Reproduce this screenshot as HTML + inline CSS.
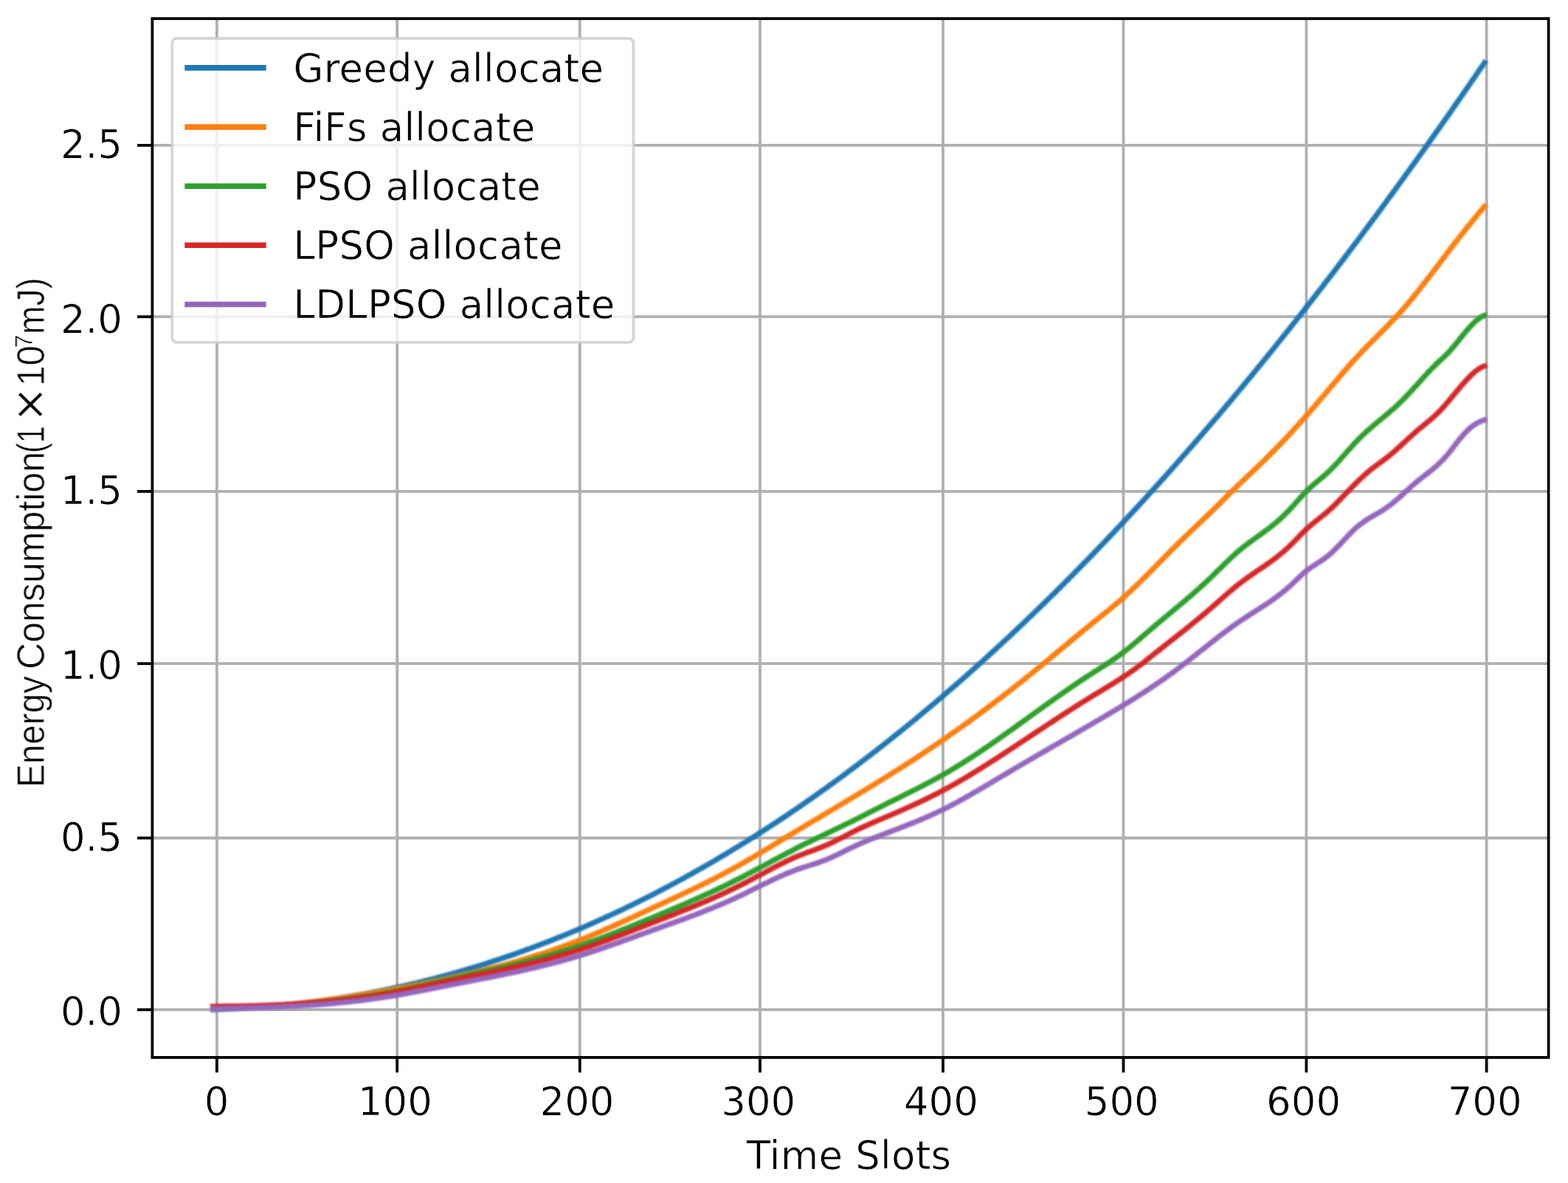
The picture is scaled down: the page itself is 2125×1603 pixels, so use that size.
<!DOCTYPE html>
<html lang="en"><head><meta charset="utf-8"><title>Energy Consumption</title>
<style>html,body{margin:0;padding:0;background:#fff;}body{width:2125px;height:1603px;overflow:hidden;}svg{display:block;}text{font-family:"DejaVu Sans", "Liberation Sans", sans-serif;fill:#000;stroke:#fff;stroke-width:0.7px;stroke-linejoin:round;}</style>
</head><body>
<svg width="2125" height="1603" viewBox="0 0 2125 1603">
<rect x="0" y="0" width="2125" height="1603" fill="#fff"/>
<defs><filter id="fLine" x="0" y="0" width="2125" height="1603" filterUnits="userSpaceOnUse" color-interpolation-filters="sRGB"><feGaussianBlur stdDeviation="0.45"/></filter><filter id="fCurve" x="0" y="0" width="2125" height="1603" filterUnits="userSpaceOnUse" color-interpolation-filters="sRGB"><feGaussianBlur stdDeviation="1.3"/></filter><filter id="fText" x="0" y="0" width="2125" height="1603" filterUnits="userSpaceOnUse" color-interpolation-filters="sRGB"><feGaussianBlur stdDeviation="0.7"/></filter></defs>
<g id="chart">
<g stroke="#b0b0b0" stroke-width="3.8" fill="none" filter="url(#fLine)">
<line x1="293.9" y1="25.2" x2="293.9" y2="1432.9"/>
<line x1="538.2" y1="25.2" x2="538.2" y2="1432.9"/>
<line x1="785.8" y1="25.2" x2="785.8" y2="1432.9"/>
<line x1="1030.0" y1="25.2" x2="1030.0" y2="1432.9"/>
<line x1="1278.0" y1="25.2" x2="1278.0" y2="1432.9"/>
<line x1="1522.5" y1="25.2" x2="1522.5" y2="1432.9"/>
<line x1="1770.4" y1="25.2" x2="1770.4" y2="1432.9"/>
<line x1="2014.6" y1="25.2" x2="2014.6" y2="1432.9"/>
<line x1="206.4" y1="1368.2" x2="2098.6" y2="1368.2"/>
<line x1="206.4" y1="1135.5" x2="2098.6" y2="1135.5"/>
<line x1="206.4" y1="899.2" x2="2098.6" y2="899.2"/>
<line x1="206.4" y1="665.9" x2="2098.6" y2="665.9"/>
<line x1="206.4" y1="429.2" x2="2098.6" y2="429.2"/>
<line x1="206.4" y1="196.9" x2="2098.6" y2="196.9"/>
</g>
<g fill="none" stroke-width="7.3" stroke-linecap="square" stroke-linejoin="round" filter="url(#fCurve)">
<path d="M288.6,1368.0 L294.0,1367.8 L297.0,1367.7 L300.0,1367.6 L303.0,1367.5 L306.0,1367.3 L309.0,1367.2 L312.0,1367.1 L315.0,1366.9 L318.0,1366.8 L321.0,1366.6 L324.0,1366.5 L327.0,1366.3 L330.0,1366.1 L333.0,1365.9 L336.0,1365.7 L339.0,1365.6 L342.0,1365.4 L345.0,1365.2 L348.0,1364.9 L351.0,1364.7 L354.0,1364.5 L357.0,1364.3 L360.0,1364.0 L363.0,1363.8 L366.0,1363.6 L369.0,1363.3 L372.0,1363.0 L375.0,1362.8 L378.0,1362.5 L381.0,1362.2 L384.0,1361.9 L387.0,1361.6 L390.0,1361.3 L393.0,1361.0 L396.0,1360.7 L399.0,1360.4 L402.0,1360.1 L405.0,1359.7 L408.0,1359.4 L411.0,1359.0 L414.0,1358.7 L417.0,1358.3 L420.0,1358.0 L423.0,1357.6 L426.0,1357.2 L429.0,1356.8 L432.0,1356.4 L435.0,1356.0 L438.0,1355.6 L441.0,1355.2 L444.0,1354.8 L447.0,1354.3 L450.0,1353.9 L453.0,1353.4 L456.0,1353.0 L459.0,1352.5 L462.0,1352.1 L465.0,1351.6 L468.0,1351.1 L471.0,1350.6 L474.0,1350.1 L477.0,1349.6 L480.0,1349.1 L483.0,1348.6 L486.0,1348.1 L489.0,1347.6 L492.0,1347.0 L495.0,1346.5 L498.0,1345.9 L501.0,1345.4 L504.0,1344.8 L507.0,1344.2 L510.0,1343.6 L513.0,1343.1 L516.0,1342.5 L519.0,1341.9 L522.0,1341.3 L525.0,1340.6 L528.0,1340.0 L531.0,1339.4 L534.0,1338.7 L537.0,1338.1 L540.0,1337.4 L543.0,1336.8 L546.0,1336.1 L549.0,1335.4 L552.0,1334.8 L555.0,1334.1 L558.0,1333.4 L561.0,1332.7 L564.0,1332.0 L567.0,1331.2 L570.0,1330.5 L573.0,1329.8 L576.0,1329.0 L579.0,1328.3 L582.0,1327.5 L585.0,1326.8 L588.0,1326.0 L591.0,1325.2 L594.0,1324.4 L597.0,1323.6 L600.0,1322.8 L603.0,1322.0 L606.0,1321.2 L609.0,1320.4 L612.0,1319.5 L615.0,1318.7 L618.0,1317.9 L621.0,1317.0 L624.0,1316.1 L627.0,1315.3 L630.0,1314.4 L633.0,1313.5 L636.0,1312.6 L639.0,1311.7 L642.0,1310.8 L645.0,1309.9 L648.0,1309.0 L651.0,1308.1 L654.0,1307.1 L657.0,1306.2 L660.0,1305.2 L663.0,1304.3 L666.0,1303.3 L669.0,1302.3 L672.0,1301.3 L675.0,1300.3 L678.0,1299.4 L681.0,1298.3 L684.0,1297.3 L687.0,1296.3 L690.0,1295.3 L693.0,1294.3 L696.0,1293.2 L699.0,1292.2 L702.0,1291.1 L705.0,1290.0 L708.0,1289.0 L711.0,1287.9 L714.0,1286.8 L717.0,1285.7 L720.0,1284.6 L723.0,1283.5 L726.0,1282.4 L729.0,1281.2 L732.0,1280.1 L735.0,1278.9 L738.0,1277.8 L741.0,1276.6 L744.0,1275.5 L747.0,1274.3 L750.0,1273.1 L753.0,1271.9 L756.0,1270.7 L759.0,1269.5 L762.0,1268.3 L765.0,1267.1 L768.0,1265.9 L771.0,1264.6 L774.0,1263.4 L777.0,1262.1 L780.0,1260.9 L783.0,1259.6 L786.0,1258.3 L789.0,1257.1 L792.0,1255.8 L795.0,1254.5 L798.0,1253.2 L801.0,1251.9 L804.0,1250.5 L807.0,1249.2 L810.0,1247.9 L813.0,1246.5 L816.0,1245.2 L819.0,1243.8 L822.0,1242.4 L825.0,1241.1 L828.0,1239.7 L831.0,1238.3 L834.0,1236.9 L837.0,1235.5 L840.0,1234.1 L843.0,1232.7 L846.0,1231.2 L849.0,1229.8 L852.0,1228.3 L855.0,1226.9 L858.0,1225.4 L861.0,1224.0 L864.0,1222.5 L867.0,1221.0 L870.0,1219.5 L873.0,1218.0 L876.0,1216.5 L879.0,1215.0 L882.0,1213.5 L885.0,1211.9 L888.0,1210.4 L891.0,1208.8 L894.0,1207.3 L897.0,1205.7 L900.0,1204.1 L903.0,1202.6 L906.0,1201.0 L909.0,1199.4 L912.0,1197.8 L915.0,1196.2 L918.0,1194.6 L921.0,1192.9 L924.0,1191.3 L927.0,1189.7 L930.0,1188.0 L933.0,1186.3 L936.0,1184.7 L939.0,1183.0 L942.0,1181.3 L945.0,1179.6 L948.0,1177.9 L951.0,1176.2 L954.0,1174.5 L957.0,1172.8 L960.0,1171.1 L963.0,1169.3 L966.0,1167.6 L969.0,1165.8 L972.0,1164.1 L975.0,1162.3 L978.0,1160.5 L981.0,1158.8 L984.0,1157.0 L987.0,1155.2 L990.0,1153.4 L993.0,1151.5 L996.0,1149.7 L999.0,1147.9 L1002.0,1146.1 L1005.0,1144.2 L1008.0,1142.4 L1011.0,1140.5 L1014.0,1138.6 L1017.0,1136.7 L1020.0,1134.9 L1023.0,1133.0 L1026.0,1131.1 L1029.0,1129.1 L1032.0,1127.2 L1035.0,1125.3 L1038.0,1123.4 L1041.0,1121.4 L1044.0,1119.5 L1047.0,1117.5 L1050.0,1115.6 L1053.0,1113.6 L1056.0,1111.6 L1059.0,1109.6 L1062.0,1107.6 L1065.0,1105.6 L1068.0,1103.6 L1071.0,1101.6 L1074.0,1099.5 L1077.0,1097.5 L1080.0,1095.5 L1083.0,1093.4 L1086.0,1091.4 L1089.0,1089.3 L1092.0,1087.2 L1095.0,1085.1 L1098.0,1083.0 L1101.0,1080.9 L1104.0,1078.8 L1107.0,1076.7 L1110.0,1074.6 L1113.0,1072.4 L1116.0,1070.3 L1119.0,1068.2 L1122.0,1066.0 L1125.0,1063.8 L1128.0,1061.7 L1131.0,1059.5 L1134.0,1057.3 L1137.0,1055.1 L1140.0,1052.9 L1143.0,1050.7 L1146.0,1048.5 L1149.0,1046.2 L1152.0,1044.0 L1155.0,1041.8 L1158.0,1039.5 L1161.0,1037.3 L1164.0,1035.0 L1167.0,1032.7 L1170.0,1030.4 L1173.0,1028.1 L1176.0,1025.8 L1179.0,1023.5 L1182.0,1021.2 L1185.0,1018.9 L1188.0,1016.6 L1191.0,1014.2 L1194.0,1011.9 L1197.0,1009.5 L1200.0,1007.2 L1203.0,1004.8 L1206.0,1002.4 L1209.0,1000.0 L1212.0,997.6 L1215.0,995.2 L1218.0,992.8 L1221.0,990.4 L1224.0,988.0 L1227.0,985.6 L1230.0,983.1 L1233.0,980.7 L1236.0,978.2 L1239.0,975.7 L1242.0,973.3 L1245.0,970.8 L1248.0,968.3 L1251.0,965.8 L1254.0,963.3 L1257.0,960.8 L1260.0,958.3 L1263.0,955.7 L1266.0,953.2 L1269.0,950.7 L1272.0,948.1 L1275.0,945.6 L1278.0,943.0 L1281.0,940.4 L1284.0,937.8 L1287.0,935.2 L1290.0,932.6 L1293.0,930.0 L1296.0,927.4 L1299.0,924.8 L1302.0,922.2 L1305.0,919.5 L1308.0,916.9 L1311.0,914.2 L1314.0,911.6 L1317.0,908.9 L1320.0,906.2 L1323.0,903.5 L1326.0,900.8 L1329.0,898.1 L1332.0,895.4 L1335.0,892.7 L1338.0,890.0 L1341.0,887.2 L1344.0,884.5 L1347.0,881.8 L1350.0,879.0 L1353.0,876.2 L1356.0,873.5 L1359.0,870.7 L1362.0,867.9 L1365.0,865.1 L1368.0,862.3 L1371.0,859.5 L1374.0,856.7 L1377.0,853.8 L1380.0,851.0 L1383.0,848.2 L1386.0,845.3 L1389.0,842.4 L1392.0,839.6 L1395.0,836.7 L1398.0,833.8 L1401.0,830.9 L1404.0,828.0 L1407.0,825.1 L1410.0,822.2 L1413.0,819.3 L1416.0,816.4 L1419.0,813.4 L1422.0,810.5 L1425.0,807.5 L1428.0,804.6 L1431.0,801.6 L1434.0,798.6 L1437.0,795.6 L1440.0,792.7 L1443.0,789.7 L1446.0,786.6 L1449.0,783.6 L1452.0,780.6 L1455.0,777.6 L1458.0,774.5 L1461.0,771.5 L1464.0,768.4 L1467.0,765.4 L1470.0,762.3 L1473.0,759.2 L1476.0,756.1 L1479.0,753.1 L1482.0,750.0 L1485.0,746.8 L1488.0,743.7 L1491.0,740.6 L1494.0,737.5 L1497.0,734.3 L1500.0,731.2 L1503.0,728.0 L1506.0,724.9 L1509.0,721.7 L1512.0,718.5 L1515.0,715.3 L1518.0,712.2 L1521.0,709.0 L1524.0,705.7 L1527.0,702.5 L1530.0,699.3 L1533.0,696.1 L1536.0,692.8 L1539.0,689.6 L1542.0,686.3 L1545.0,683.1 L1548.0,679.8 L1551.0,676.5 L1554.0,673.2 L1557.0,669.9 L1560.0,666.6 L1563.0,663.3 L1566.0,660.0 L1569.0,656.7 L1572.0,653.4 L1575.0,650.0 L1578.0,646.7 L1581.0,643.3 L1584.0,640.0 L1587.0,636.6 L1590.0,633.2 L1593.0,629.8 L1596.0,626.4 L1599.0,623.0 L1602.0,619.6 L1605.0,616.2 L1608.0,612.8 L1611.0,609.4 L1614.0,605.9 L1617.0,602.5 L1620.0,599.0 L1623.0,595.6 L1626.0,592.1 L1629.0,588.6 L1632.0,585.1 L1635.0,581.7 L1638.0,578.2 L1641.0,574.7 L1644.0,571.1 L1647.0,567.6 L1650.0,564.1 L1653.0,560.6 L1656.0,557.0 L1659.0,553.5 L1662.0,549.9 L1665.0,546.3 L1668.0,542.8 L1671.0,539.2 L1674.0,535.6 L1677.0,532.0 L1680.0,528.4 L1683.0,524.8 L1686.0,521.2 L1689.0,517.5 L1692.0,513.9 L1695.0,510.3 L1698.0,506.6 L1701.0,503.0 L1704.0,499.3 L1707.0,495.6 L1710.0,492.0 L1713.0,488.3 L1716.0,484.6 L1719.0,480.9 L1722.0,477.2 L1725.0,473.5 L1728.0,469.7 L1731.0,466.0 L1734.0,462.3 L1737.0,458.5 L1740.0,454.8 L1743.0,451.0 L1746.0,447.2 L1749.0,443.5 L1752.0,439.7 L1755.0,435.9 L1758.0,432.1 L1761.0,428.3 L1764.0,424.5 L1767.0,420.7 L1770.0,416.8 L1773.0,413.0 L1776.0,409.2 L1779.0,405.3 L1782.0,401.5 L1785.0,397.6 L1788.0,393.7 L1791.0,389.9 L1794.0,386.0 L1797.0,382.1 L1800.0,378.2 L1803.0,374.3 L1806.0,370.4 L1809.0,366.5 L1812.0,362.5 L1815.0,358.6 L1818.0,354.7 L1821.0,350.7 L1824.0,346.7 L1827.0,342.8 L1830.0,338.8 L1833.0,334.8 L1836.0,330.8 L1839.0,326.9 L1842.0,322.9 L1845.0,318.9 L1848.0,314.8 L1851.0,310.8 L1854.0,306.8 L1857.0,302.8 L1860.0,298.7 L1863.0,294.7 L1866.0,290.6 L1869.0,286.5 L1872.0,282.5 L1875.0,278.4 L1878.0,274.3 L1881.0,270.2 L1884.0,266.1 L1887.0,262.0 L1890.0,257.9 L1893.0,253.8 L1896.0,249.7 L1899.0,245.5 L1902.0,241.4 L1905.0,237.2 L1908.0,233.1 L1911.0,228.9 L1914.0,224.7 L1917.0,220.6 L1920.0,216.4 L1923.0,212.2 L1926.0,208.0 L1929.0,203.8 L1932.0,199.6 L1935.0,195.4 L1938.0,191.1 L1941.0,186.9 L1944.0,182.7 L1947.0,178.4 L1950.0,174.2 L1953.0,169.9 L1956.0,165.6 L1959.0,161.4 L1962.0,157.1 L1965.0,152.8 L1968.0,148.5 L1971.0,144.2 L1974.0,139.9 L1977.0,135.6 L1980.0,131.2 L1983.0,126.9 L1986.0,122.6 L1989.0,118.2 L1992.0,113.9 L1995.0,109.5 L1998.0,105.2 L2001.0,100.8 L2004.0,96.4 L2007.0,92.0 L2010.0,87.7 L2011.8,85.0" stroke="#1f77b4"/>
<path d="M288.6,1367.0 L294.0,1366.8 L297.0,1366.7 L300.0,1366.6 L303.0,1366.6 L306.0,1366.5 L309.0,1366.4 L312.0,1366.3 L315.0,1366.2 L318.0,1366.0 L321.0,1365.9 L324.0,1365.8 L327.0,1365.6 L330.0,1365.5 L333.0,1365.3 L336.0,1365.2 L339.0,1365.0 L342.0,1364.8 L345.0,1364.7 L348.0,1364.5 L351.0,1364.3 L354.0,1364.1 L357.0,1363.8 L360.0,1363.6 L363.0,1363.4 L366.0,1363.2 L369.0,1362.9 L372.0,1362.7 L375.0,1362.4 L378.0,1362.2 L381.0,1361.9 L384.0,1361.6 L387.0,1361.4 L390.0,1361.1 L393.0,1360.8 L396.0,1360.5 L399.0,1360.2 L402.0,1359.9 L405.0,1359.5 L408.0,1359.2 L411.0,1358.9 L414.0,1358.5 L417.0,1358.2 L420.0,1357.9 L423.0,1357.5 L426.0,1357.1 L429.0,1356.8 L432.0,1356.4 L435.0,1356.0 L438.0,1355.6 L441.0,1355.2 L444.0,1354.8 L447.0,1354.4 L450.0,1354.0 L453.0,1353.6 L456.0,1353.2 L459.0,1352.8 L462.0,1352.3 L465.0,1351.9 L468.0,1351.5 L471.0,1351.0 L474.0,1350.6 L477.0,1350.1 L480.0,1349.6 L483.0,1349.2 L486.0,1348.7 L489.0,1348.2 L492.0,1347.7 L495.0,1347.2 L498.0,1346.7 L501.0,1346.2 L504.0,1345.7 L507.0,1345.2 L510.0,1344.7 L513.0,1344.2 L516.0,1343.7 L519.0,1343.1 L522.0,1342.6 L525.0,1342.1 L528.0,1341.5 L531.0,1341.0 L534.0,1340.4 L537.0,1339.9 L540.0,1339.3 L543.0,1338.7 L546.0,1338.2 L549.0,1337.6 L552.0,1337.0 L555.0,1336.4 L558.0,1335.8 L561.0,1335.3 L564.0,1334.7 L567.0,1334.1 L570.0,1333.5 L573.0,1332.9 L576.0,1332.2 L579.0,1331.6 L582.0,1331.0 L585.0,1330.4 L588.0,1329.8 L591.0,1329.1 L594.0,1328.5 L597.0,1327.9 L600.0,1327.2 L603.0,1326.6 L606.0,1325.9 L609.0,1325.3 L612.0,1324.6 L615.0,1323.9 L618.0,1323.3 L621.0,1322.6 L624.0,1321.9 L627.0,1321.2 L630.0,1320.6 L633.0,1319.9 L636.0,1319.2 L639.0,1318.5 L642.0,1317.8 L645.0,1317.1 L648.0,1316.3 L651.0,1315.6 L654.0,1314.9 L657.0,1314.1 L660.0,1313.4 L663.0,1312.6 L666.0,1311.9 L669.0,1311.1 L672.0,1310.3 L675.0,1309.6 L678.0,1308.8 L681.0,1308.0 L684.0,1307.2 L687.0,1306.4 L690.0,1305.5 L693.0,1304.7 L696.0,1303.9 L699.0,1303.0 L702.0,1302.2 L705.0,1301.3 L708.0,1300.4 L711.0,1299.5 L714.0,1298.6 L717.0,1297.7 L720.0,1296.8 L723.0,1295.9 L726.0,1295.0 L729.0,1294.0 L732.0,1293.1 L735.0,1292.1 L738.0,1291.1 L741.0,1290.1 L744.0,1289.1 L747.0,1288.1 L750.0,1287.1 L753.0,1286.0 L756.0,1285.0 L759.0,1283.9 L762.0,1282.9 L765.0,1281.8 L768.0,1280.7 L771.0,1279.6 L774.0,1278.4 L777.0,1277.3 L780.0,1276.2 L783.0,1275.0 L786.0,1273.8 L789.0,1272.6 L792.0,1271.4 L795.0,1270.2 L798.0,1269.0 L801.0,1267.7 L804.0,1266.5 L807.0,1265.2 L810.0,1263.9 L813.0,1262.6 L816.0,1261.3 L819.0,1260.0 L822.0,1258.7 L825.0,1257.4 L828.0,1256.1 L831.0,1254.7 L834.0,1253.4 L837.0,1252.1 L840.0,1250.7 L843.0,1249.3 L846.0,1248.0 L849.0,1246.6 L852.0,1245.2 L855.0,1243.9 L858.0,1242.5 L861.0,1241.1 L864.0,1239.7 L867.0,1238.3 L870.0,1236.9 L873.0,1235.6 L876.0,1234.2 L879.0,1232.8 L882.0,1231.4 L885.0,1230.0 L888.0,1228.6 L891.0,1227.2 L894.0,1225.9 L897.0,1224.5 L900.0,1223.1 L903.0,1221.7 L906.0,1220.3 L909.0,1218.9 L912.0,1217.5 L915.0,1216.1 L918.0,1214.7 L921.0,1213.3 L924.0,1211.9 L927.0,1210.5 L930.0,1209.1 L933.0,1207.6 L936.0,1206.2 L939.0,1204.8 L942.0,1203.3 L945.0,1201.9 L948.0,1200.4 L951.0,1198.9 L954.0,1197.4 L957.0,1195.9 L960.0,1194.4 L963.0,1192.9 L966.0,1191.4 L969.0,1189.9 L972.0,1188.3 L975.0,1186.8 L978.0,1185.2 L981.0,1183.6 L984.0,1182.0 L987.0,1180.4 L990.0,1178.8 L993.0,1177.2 L996.0,1175.5 L999.0,1173.9 L1002.0,1172.2 L1005.0,1170.5 L1008.0,1168.8 L1011.0,1167.0 L1014.0,1165.3 L1017.0,1163.6 L1020.0,1161.8 L1023.0,1160.0 L1026.0,1158.2 L1029.0,1156.5 L1032.0,1154.7 L1035.0,1152.9 L1038.0,1151.1 L1041.0,1149.3 L1044.0,1147.4 L1047.0,1145.6 L1050.0,1143.8 L1053.0,1142.0 L1056.0,1140.2 L1059.0,1138.3 L1062.0,1136.5 L1065.0,1134.7 L1068.0,1132.9 L1071.0,1131.1 L1074.0,1129.3 L1077.0,1127.5 L1080.0,1125.7 L1083.0,1123.9 L1086.0,1122.1 L1089.0,1120.3 L1092.0,1118.5 L1095.0,1116.7 L1098.0,1114.9 L1101.0,1113.1 L1104.0,1111.3 L1107.0,1109.6 L1110.0,1107.8 L1113.0,1106.0 L1116.0,1104.2 L1119.0,1102.4 L1122.0,1100.6 L1125.0,1098.8 L1128.0,1097.1 L1131.0,1095.3 L1134.0,1093.5 L1137.0,1091.7 L1140.0,1089.9 L1143.0,1088.1 L1146.0,1086.3 L1149.0,1084.5 L1152.0,1082.7 L1155.0,1080.9 L1158.0,1079.1 L1161.0,1077.3 L1164.0,1075.5 L1167.0,1073.7 L1170.0,1071.9 L1173.0,1070.0 L1176.0,1068.2 L1179.0,1066.4 L1182.0,1064.6 L1185.0,1062.7 L1188.0,1060.9 L1191.0,1059.0 L1194.0,1057.2 L1197.0,1055.3 L1200.0,1053.5 L1203.0,1051.6 L1206.0,1049.7 L1209.0,1047.8 L1212.0,1045.9 L1215.0,1044.1 L1218.0,1042.2 L1221.0,1040.3 L1224.0,1038.3 L1227.0,1036.4 L1230.0,1034.5 L1233.0,1032.6 L1236.0,1030.6 L1239.0,1028.7 L1242.0,1026.7 L1245.0,1024.7 L1248.0,1022.8 L1251.0,1020.8 L1254.0,1018.8 L1257.0,1016.8 L1260.0,1014.8 L1263.0,1012.7 L1266.0,1010.7 L1269.0,1008.7 L1272.0,1006.6 L1275.0,1004.6 L1278.0,1002.5 L1281.0,1000.4 L1284.0,998.3 L1287.0,996.2 L1290.0,994.1 L1293.0,992.0 L1296.0,989.9 L1299.0,987.8 L1302.0,985.6 L1305.0,983.5 L1308.0,981.3 L1311.0,979.2 L1314.0,977.0 L1317.0,974.8 L1320.0,972.6 L1323.0,970.4 L1326.0,968.2 L1329.0,966.0 L1332.0,963.8 L1335.0,961.5 L1338.0,959.3 L1341.0,957.0 L1344.0,954.8 L1347.0,952.5 L1350.0,950.2 L1353.0,947.9 L1356.0,945.6 L1359.0,943.3 L1362.0,941.0 L1365.0,938.7 L1368.0,936.3 L1371.0,934.0 L1374.0,931.7 L1377.0,929.3 L1380.0,926.9 L1383.0,924.6 L1386.0,922.2 L1389.0,919.8 L1392.0,917.4 L1395.0,915.0 L1398.0,912.5 L1401.0,910.1 L1404.0,907.7 L1407.0,905.2 L1410.0,902.8 L1413.0,900.3 L1416.0,897.8 L1419.0,895.4 L1422.0,892.9 L1425.0,890.4 L1428.0,887.9 L1431.0,885.4 L1434.0,882.9 L1437.0,880.4 L1440.0,877.9 L1443.0,875.4 L1446.0,872.9 L1449.0,870.4 L1452.0,867.8 L1455.0,865.4 L1458.0,862.9 L1461.0,860.4 L1464.0,857.9 L1467.0,855.4 L1470.0,853.0 L1473.0,850.5 L1476.0,848.1 L1479.0,845.6 L1482.0,843.2 L1485.0,840.8 L1488.0,838.4 L1491.0,836.0 L1494.0,833.6 L1497.0,831.2 L1500.0,828.7 L1503.0,826.3 L1506.0,823.8 L1509.0,821.3 L1512.0,818.8 L1515.0,816.3 L1518.0,813.7 L1521.0,811.0 L1524.0,808.4 L1527.0,805.6 L1530.0,802.9 L1533.0,800.1 L1536.0,797.2 L1539.0,794.3 L1542.0,791.4 L1545.0,788.5 L1548.0,785.6 L1551.0,782.6 L1554.0,779.6 L1557.0,776.6 L1560.0,773.6 L1563.0,770.5 L1566.0,767.5 L1569.0,764.4 L1572.0,761.4 L1575.0,758.3 L1578.0,755.3 L1581.0,752.2 L1584.0,749.2 L1587.0,746.2 L1590.0,743.1 L1593.0,740.1 L1596.0,737.2 L1599.0,734.2 L1602.0,731.3 L1605.0,728.4 L1608.0,725.5 L1611.0,722.6 L1614.0,719.7 L1617.0,716.9 L1620.0,714.0 L1623.0,711.1 L1626.0,708.3 L1629.0,705.4 L1632.0,702.6 L1635.0,699.7 L1638.0,696.8 L1641.0,693.9 L1644.0,691.0 L1647.0,688.0 L1650.0,685.1 L1653.0,682.1 L1656.0,679.1 L1659.0,676.1 L1662.0,673.2 L1665.0,670.2 L1668.0,667.2 L1671.0,664.3 L1674.0,661.4 L1677.0,658.4 L1680.0,655.5 L1683.0,652.7 L1686.0,649.8 L1689.0,647.0 L1692.0,644.1 L1695.0,641.3 L1698.0,638.5 L1701.0,635.6 L1704.0,632.8 L1707.0,629.9 L1710.0,627.0 L1713.0,624.1 L1716.0,621.1 L1719.0,618.2 L1722.0,615.2 L1725.0,612.1 L1728.0,609.1 L1731.0,606.0 L1734.0,602.9 L1737.0,599.8 L1740.0,596.6 L1743.0,593.4 L1746.0,590.2 L1749.0,587.0 L1752.0,583.7 L1755.0,580.4 L1758.0,577.1 L1761.0,573.8 L1764.0,570.5 L1767.0,567.1 L1770.0,563.7 L1773.0,560.3 L1776.0,556.8 L1779.0,553.4 L1782.0,549.9 L1785.0,546.4 L1788.0,542.9 L1791.0,539.4 L1794.0,535.8 L1797.0,532.3 L1800.0,528.7 L1803.0,525.2 L1806.0,521.6 L1809.0,518.1 L1812.0,514.5 L1815.0,511.0 L1818.0,507.5 L1821.0,503.9 L1824.0,500.5 L1827.0,497.0 L1830.0,493.6 L1833.0,490.3 L1836.0,486.9 L1839.0,483.7 L1842.0,480.5 L1845.0,477.3 L1848.0,474.2 L1851.0,471.1 L1854.0,468.0 L1857.0,465.0 L1860.0,462.0 L1863.0,459.0 L1866.0,456.0 L1869.0,453.0 L1872.0,450.0 L1875.0,447.0 L1878.0,443.9 L1881.0,440.9 L1884.0,437.8 L1887.0,434.6 L1890.0,431.5 L1893.0,428.3 L1896.0,425.0 L1899.0,421.7 L1902.0,418.3 L1905.0,414.8 L1908.0,411.3 L1911.0,407.7 L1914.0,404.1 L1917.0,400.4 L1920.0,396.7 L1923.0,392.9 L1926.0,389.1 L1929.0,385.3 L1932.0,381.5 L1935.0,377.6 L1938.0,373.7 L1941.0,369.7 L1944.0,365.8 L1947.0,361.8 L1950.0,357.9 L1953.0,353.9 L1956.0,350.0 L1959.0,346.0 L1962.0,342.0 L1965.0,338.1 L1968.0,334.2 L1971.0,330.3 L1974.0,326.4 L1977.0,322.5 L1980.0,318.7 L1983.0,314.9 L1986.0,311.1 L1989.0,307.4 L1992.0,303.7 L1995.0,300.0 L1998.0,296.3 L2001.0,292.7 L2004.0,289.0 L2007.0,285.4 L2010.0,281.8 L2011.8,279.6" stroke="#ff7f0e"/>
<path d="M288.6,1366.8 L294.0,1366.6 L297.0,1366.5 L300.0,1366.3 L303.0,1366.2 L306.0,1366.1 L309.0,1365.9 L312.0,1365.8 L315.0,1365.6 L318.0,1365.5 L321.0,1365.4 L324.0,1365.2 L327.0,1365.1 L330.0,1364.9 L333.0,1364.8 L336.0,1364.6 L339.0,1364.5 L342.0,1364.3 L345.0,1364.1 L348.0,1364.0 L351.0,1363.8 L354.0,1363.6 L357.0,1363.5 L360.0,1363.3 L363.0,1363.1 L366.0,1362.9 L369.0,1362.7 L372.0,1362.5 L375.0,1362.3 L378.0,1362.1 L381.0,1361.9 L384.0,1361.7 L387.0,1361.5 L390.0,1361.3 L393.0,1361.1 L396.0,1360.8 L399.0,1360.6 L402.0,1360.4 L405.0,1360.1 L408.0,1359.9 L411.0,1359.6 L414.0,1359.4 L417.0,1359.1 L420.0,1358.8 L423.0,1358.5 L426.0,1358.3 L429.0,1358.0 L432.0,1357.7 L435.0,1357.4 L438.0,1357.1 L441.0,1356.8 L444.0,1356.4 L447.0,1356.1 L450.0,1355.8 L453.0,1355.4 L456.0,1355.1 L459.0,1354.7 L462.0,1354.4 L465.0,1354.0 L468.0,1353.6 L471.0,1353.3 L474.0,1352.9 L477.0,1352.5 L480.0,1352.0 L483.0,1351.6 L486.0,1351.2 L489.0,1350.8 L492.0,1350.3 L495.0,1349.9 L498.0,1349.4 L501.0,1349.0 L504.0,1348.5 L507.0,1348.0 L510.0,1347.5 L513.0,1347.0 L516.0,1346.5 L519.0,1346.0 L522.0,1345.4 L525.0,1344.9 L528.0,1344.3 L531.0,1343.8 L534.0,1343.2 L537.0,1342.6 L540.0,1342.0 L543.0,1341.4 L546.0,1340.8 L549.0,1340.2 L552.0,1339.6 L555.0,1338.9 L558.0,1338.3 L561.0,1337.6 L564.0,1337.0 L567.0,1336.3 L570.0,1335.6 L573.0,1335.0 L576.0,1334.3 L579.0,1333.6 L582.0,1332.9 L585.0,1332.3 L588.0,1331.6 L591.0,1330.9 L594.0,1330.2 L597.0,1329.6 L600.0,1328.9 L603.0,1328.2 L606.0,1327.5 L609.0,1326.9 L612.0,1326.2 L615.0,1325.5 L618.0,1324.9 L621.0,1324.2 L624.0,1323.5 L627.0,1322.9 L630.0,1322.2 L633.0,1321.5 L636.0,1320.9 L639.0,1320.2 L642.0,1319.5 L645.0,1318.9 L648.0,1318.2 L651.0,1317.5 L654.0,1316.9 L657.0,1316.2 L660.0,1315.5 L663.0,1314.8 L666.0,1314.1 L669.0,1313.5 L672.0,1312.8 L675.0,1312.1 L678.0,1311.4 L681.0,1310.7 L684.0,1310.0 L687.0,1309.3 L690.0,1308.5 L693.0,1307.8 L696.0,1307.1 L699.0,1306.4 L702.0,1305.6 L705.0,1304.9 L708.0,1304.1 L711.0,1303.4 L714.0,1302.6 L717.0,1301.8 L720.0,1301.1 L723.0,1300.3 L726.0,1299.5 L729.0,1298.7 L732.0,1297.9 L735.0,1297.0 L738.0,1296.2 L741.0,1295.4 L744.0,1294.5 L747.0,1293.7 L750.0,1292.8 L753.0,1291.9 L756.0,1291.0 L759.0,1290.1 L762.0,1289.2 L765.0,1288.3 L768.0,1287.4 L771.0,1286.4 L774.0,1285.5 L777.0,1284.5 L780.0,1283.5 L783.0,1282.5 L786.0,1281.5 L789.0,1280.5 L792.0,1279.4 L795.0,1278.4 L798.0,1277.3 L801.0,1276.3 L804.0,1275.2 L807.0,1274.1 L810.0,1273.0 L813.0,1271.9 L816.0,1270.7 L819.0,1269.6 L822.0,1268.4 L825.0,1267.3 L828.0,1266.1 L831.0,1265.0 L834.0,1263.8 L837.0,1262.6 L840.0,1261.4 L843.0,1260.2 L846.0,1259.0 L849.0,1257.8 L852.0,1256.6 L855.0,1255.4 L858.0,1254.2 L861.0,1252.9 L864.0,1251.7 L867.0,1250.5 L870.0,1249.2 L873.0,1248.0 L876.0,1246.7 L879.0,1245.5 L882.0,1244.3 L885.0,1243.0 L888.0,1241.8 L891.0,1240.5 L894.0,1239.3 L897.0,1238.0 L900.0,1236.8 L903.0,1235.5 L906.0,1234.2 L909.0,1233.0 L912.0,1231.7 L915.0,1230.4 L918.0,1229.1 L921.0,1227.9 L924.0,1226.6 L927.0,1225.3 L930.0,1224.0 L933.0,1222.7 L936.0,1221.3 L939.0,1220.0 L942.0,1218.7 L945.0,1217.4 L948.0,1216.0 L951.0,1214.7 L954.0,1213.3 L957.0,1211.9 L960.0,1210.6 L963.0,1209.2 L966.0,1207.8 L969.0,1206.4 L972.0,1205.0 L975.0,1203.6 L978.0,1202.1 L981.0,1200.7 L984.0,1199.2 L987.0,1197.8 L990.0,1196.3 L993.0,1194.8 L996.0,1193.3 L999.0,1191.8 L1002.0,1190.3 L1005.0,1188.7 L1008.0,1187.2 L1011.0,1185.6 L1014.0,1184.0 L1017.0,1182.5 L1020.0,1180.9 L1023.0,1179.3 L1026.0,1177.7 L1029.0,1176.1 L1032.0,1174.5 L1035.0,1172.9 L1038.0,1171.3 L1041.0,1169.7 L1044.0,1168.1 L1047.0,1166.4 L1050.0,1164.8 L1053.0,1163.2 L1056.0,1161.6 L1059.0,1160.0 L1062.0,1158.5 L1065.0,1156.9 L1068.0,1155.3 L1071.0,1153.7 L1074.0,1152.2 L1077.0,1150.6 L1080.0,1149.1 L1083.0,1147.6 L1086.0,1146.1 L1089.0,1144.6 L1092.0,1143.1 L1095.0,1141.6 L1098.0,1140.2 L1101.0,1138.7 L1104.0,1137.3 L1107.0,1135.8 L1110.0,1134.4 L1113.0,1132.9 L1116.0,1131.5 L1119.0,1130.0 L1122.0,1128.6 L1125.0,1127.2 L1128.0,1125.8 L1131.0,1124.3 L1134.0,1122.9 L1137.0,1121.4 L1140.0,1120.0 L1143.0,1118.6 L1146.0,1117.1 L1149.0,1115.6 L1152.0,1114.2 L1155.0,1112.7 L1158.0,1111.2 L1161.0,1109.7 L1164.0,1108.2 L1167.0,1106.7 L1170.0,1105.2 L1173.0,1103.6 L1176.0,1102.1 L1179.0,1100.6 L1182.0,1099.0 L1185.0,1097.5 L1188.0,1096.0 L1191.0,1094.4 L1194.0,1092.9 L1197.0,1091.4 L1200.0,1089.9 L1203.0,1088.3 L1206.0,1086.8 L1209.0,1085.4 L1212.0,1083.9 L1215.0,1082.4 L1218.0,1080.9 L1221.0,1079.4 L1224.0,1077.9 L1227.0,1076.4 L1230.0,1075.0 L1233.0,1073.5 L1236.0,1072.0 L1239.0,1070.5 L1242.0,1069.0 L1245.0,1067.5 L1248.0,1065.9 L1251.0,1064.4 L1254.0,1062.8 L1257.0,1061.3 L1260.0,1059.7 L1263.0,1058.1 L1266.0,1056.5 L1269.0,1054.9 L1272.0,1053.2 L1275.0,1051.5 L1278.0,1049.9 L1281.0,1048.1 L1284.0,1046.4 L1287.0,1044.6 L1290.0,1042.9 L1293.0,1041.0 L1296.0,1039.2 L1299.0,1037.4 L1302.0,1035.5 L1305.0,1033.6 L1308.0,1031.7 L1311.0,1029.8 L1314.0,1027.9 L1317.0,1025.9 L1320.0,1024.0 L1323.0,1022.0 L1326.0,1020.0 L1329.0,1018.0 L1332.0,1015.9 L1335.0,1013.9 L1338.0,1011.9 L1341.0,1009.8 L1344.0,1007.7 L1347.0,1005.6 L1350.0,1003.6 L1353.0,1001.5 L1356.0,999.3 L1359.0,997.2 L1362.0,995.1 L1365.0,993.0 L1368.0,990.8 L1371.0,988.7 L1374.0,986.5 L1377.0,984.4 L1380.0,982.2 L1383.0,980.1 L1386.0,977.9 L1389.0,975.8 L1392.0,973.6 L1395.0,971.4 L1398.0,969.3 L1401.0,967.1 L1404.0,964.9 L1407.0,962.8 L1410.0,960.6 L1413.0,958.5 L1416.0,956.3 L1419.0,954.2 L1422.0,952.0 L1425.0,949.9 L1428.0,947.8 L1431.0,945.6 L1434.0,943.5 L1437.0,941.4 L1440.0,939.3 L1443.0,937.2 L1446.0,935.1 L1449.0,933.1 L1452.0,931.0 L1455.0,928.9 L1458.0,926.9 L1461.0,924.9 L1464.0,922.9 L1467.0,920.9 L1470.0,918.9 L1473.0,916.9 L1476.0,915.0 L1479.0,913.0 L1482.0,911.1 L1485.0,909.2 L1488.0,907.3 L1491.0,905.4 L1494.0,903.5 L1497.0,901.6 L1500.0,899.6 L1503.0,897.7 L1506.0,895.7 L1509.0,893.6 L1512.0,891.6 L1515.0,889.5 L1518.0,887.3 L1521.0,885.0 L1524.0,882.7 L1527.0,880.4 L1530.0,878.0 L1533.0,875.5 L1536.0,873.0 L1539.0,870.5 L1542.0,867.9 L1545.0,865.4 L1548.0,862.8 L1551.0,860.2 L1554.0,857.6 L1557.0,855.0 L1560.0,852.4 L1563.0,849.9 L1566.0,847.3 L1569.0,844.8 L1572.0,842.3 L1575.0,839.8 L1578.0,837.3 L1581.0,834.8 L1584.0,832.3 L1587.0,829.8 L1590.0,827.3 L1593.0,824.8 L1596.0,822.3 L1599.0,819.8 L1602.0,817.3 L1605.0,814.7 L1608.0,812.2 L1611.0,809.6 L1614.0,807.0 L1617.0,804.4 L1620.0,801.8 L1623.0,799.1 L1626.0,796.4 L1629.0,793.7 L1632.0,791.0 L1635.0,788.2 L1638.0,785.4 L1641.0,782.5 L1644.0,779.6 L1647.0,776.7 L1650.0,773.7 L1653.0,770.8 L1656.0,767.8 L1659.0,764.9 L1662.0,762.0 L1665.0,759.1 L1668.0,756.2 L1671.0,753.4 L1674.0,750.7 L1677.0,748.1 L1680.0,745.5 L1683.0,743.0 L1686.0,740.6 L1689.0,738.3 L1692.0,736.0 L1695.0,733.8 L1698.0,731.6 L1701.0,729.5 L1704.0,727.3 L1707.0,725.2 L1710.0,723.0 L1713.0,720.8 L1716.0,718.6 L1719.0,716.4 L1722.0,714.1 L1725.0,711.7 L1728.0,709.2 L1731.0,706.7 L1734.0,704.0 L1737.0,701.3 L1740.0,698.4 L1743.0,695.4 L1746.0,692.4 L1749.0,689.2 L1752.0,685.9 L1755.0,682.6 L1758.0,679.2 L1761.0,675.8 L1764.0,672.5 L1767.0,669.2 L1770.0,666.1 L1773.0,663.2 L1776.0,660.4 L1779.0,657.7 L1782.0,655.1 L1785.0,652.6 L1788.0,650.1 L1791.0,647.6 L1794.0,645.1 L1797.0,642.4 L1800.0,639.7 L1803.0,636.8 L1806.0,633.7 L1809.0,630.6 L1812.0,627.4 L1815.0,624.1 L1818.0,620.7 L1821.0,617.3 L1824.0,613.9 L1827.0,610.5 L1830.0,607.2 L1833.0,603.8 L1836.0,600.6 L1839.0,597.4 L1842.0,594.3 L1845.0,591.4 L1848.0,588.5 L1851.0,585.7 L1854.0,583.0 L1857.0,580.4 L1860.0,577.8 L1863.0,575.2 L1866.0,572.7 L1869.0,570.2 L1872.0,567.7 L1875.0,565.2 L1878.0,562.7 L1881.0,560.2 L1884.0,557.6 L1887.0,555.0 L1890.0,552.4 L1893.0,549.7 L1896.0,546.9 L1899.0,544.0 L1902.0,541.0 L1905.0,537.9 L1908.0,534.8 L1911.0,531.6 L1914.0,528.3 L1917.0,525.0 L1920.0,521.7 L1923.0,518.3 L1926.0,515.0 L1929.0,511.7 L1932.0,508.4 L1935.0,505.1 L1938.0,502.0 L1941.0,498.8 L1944.0,495.8 L1947.0,492.8 L1950.0,490.0 L1953.0,487.3 L1956.0,484.6 L1959.0,481.7 L1962.0,478.7 L1965.0,475.5 L1968.0,472.0 L1971.0,468.5 L1974.0,464.8 L1977.0,461.1 L1980.0,457.3 L1983.0,453.6 L1986.0,450.0 L1989.0,446.5 L1992.0,443.1 L1995.0,439.9 L1998.0,436.9 L2001.0,434.2 L2004.0,431.9 L2007.0,429.8 L2010.0,428.2 L2011.8,427.5" stroke="#2ca02c"/>
<path d="M288.6,1363.8 L294.0,1363.6 L297.0,1363.6 L300.0,1363.6 L303.0,1363.5 L306.0,1363.5 L309.0,1363.5 L312.0,1363.4 L315.0,1363.4 L318.0,1363.4 L321.0,1363.3 L324.0,1363.3 L327.0,1363.2 L330.0,1363.1 L333.0,1363.1 L336.0,1363.0 L339.0,1362.9 L342.0,1362.9 L345.0,1362.8 L348.0,1362.7 L351.0,1362.6 L354.0,1362.5 L357.0,1362.4 L360.0,1362.3 L363.0,1362.2 L366.0,1362.1 L369.0,1361.9 L372.0,1361.8 L375.0,1361.7 L378.0,1361.5 L381.0,1361.4 L384.0,1361.3 L387.0,1361.1 L390.0,1360.9 L393.0,1360.8 L396.0,1360.6 L399.0,1360.4 L402.0,1360.2 L405.0,1360.1 L408.0,1359.9 L411.0,1359.7 L414.0,1359.5 L417.0,1359.2 L420.0,1359.0 L423.0,1358.8 L426.0,1358.6 L429.0,1358.3 L432.0,1358.1 L435.0,1357.8 L438.0,1357.6 L441.0,1357.3 L444.0,1357.0 L447.0,1356.7 L450.0,1356.4 L453.0,1356.1 L456.0,1355.8 L459.0,1355.5 L462.0,1355.2 L465.0,1354.9 L468.0,1354.5 L471.0,1354.2 L474.0,1353.8 L477.0,1353.5 L480.0,1353.1 L483.0,1352.7 L486.0,1352.3 L489.0,1351.9 L492.0,1351.5 L495.0,1351.1 L498.0,1350.7 L501.0,1350.2 L504.0,1349.8 L507.0,1349.3 L510.0,1348.8 L513.0,1348.4 L516.0,1347.9 L519.0,1347.4 L522.0,1346.9 L525.0,1346.4 L528.0,1345.8 L531.0,1345.3 L534.0,1344.7 L537.0,1344.2 L540.0,1343.6 L543.0,1343.0 L546.0,1342.4 L549.0,1341.8 L552.0,1341.2 L555.0,1340.6 L558.0,1340.0 L561.0,1339.4 L564.0,1338.7 L567.0,1338.1 L570.0,1337.4 L573.0,1336.8 L576.0,1336.1 L579.0,1335.5 L582.0,1334.8 L585.0,1334.2 L588.0,1333.5 L591.0,1332.9 L594.0,1332.2 L597.0,1331.6 L600.0,1330.9 L603.0,1330.3 L606.0,1329.6 L609.0,1329.0 L612.0,1328.4 L615.0,1327.7 L618.0,1327.1 L621.0,1326.5 L624.0,1325.8 L627.0,1325.2 L630.0,1324.6 L633.0,1324.0 L636.0,1323.3 L639.0,1322.7 L642.0,1322.1 L645.0,1321.5 L648.0,1320.9 L651.0,1320.2 L654.0,1319.6 L657.0,1319.0 L660.0,1318.4 L663.0,1317.7 L666.0,1317.1 L669.0,1316.5 L672.0,1315.8 L675.0,1315.2 L678.0,1314.5 L681.0,1313.9 L684.0,1313.2 L687.0,1312.6 L690.0,1311.9 L693.0,1311.3 L696.0,1310.6 L699.0,1309.9 L702.0,1309.2 L705.0,1308.5 L708.0,1307.9 L711.0,1307.2 L714.0,1306.4 L717.0,1305.7 L720.0,1305.0 L723.0,1304.3 L726.0,1303.5 L729.0,1302.8 L732.0,1302.0 L735.0,1301.3 L738.0,1300.5 L741.0,1299.7 L744.0,1298.9 L747.0,1298.1 L750.0,1297.3 L753.0,1296.5 L756.0,1295.7 L759.0,1294.8 L762.0,1294.0 L765.0,1293.1 L768.0,1292.2 L771.0,1291.3 L774.0,1290.4 L777.0,1289.5 L780.0,1288.6 L783.0,1287.6 L786.0,1286.7 L789.0,1285.7 L792.0,1284.7 L795.0,1283.7 L798.0,1282.7 L801.0,1281.7 L804.0,1280.6 L807.0,1279.6 L810.0,1278.5 L813.0,1277.4 L816.0,1276.4 L819.0,1275.3 L822.0,1274.2 L825.0,1273.1 L828.0,1272.0 L831.0,1270.9 L834.0,1269.7 L837.0,1268.6 L840.0,1267.5 L843.0,1266.3 L846.0,1265.2 L849.0,1264.0 L852.0,1262.9 L855.0,1261.7 L858.0,1260.5 L861.0,1259.4 L864.0,1258.2 L867.0,1257.0 L870.0,1255.9 L873.0,1254.7 L876.0,1253.5 L879.0,1252.4 L882.0,1251.2 L885.0,1250.0 L888.0,1248.9 L891.0,1247.7 L894.0,1246.5 L897.0,1245.4 L900.0,1244.2 L903.0,1243.0 L906.0,1241.9 L909.0,1240.7 L912.0,1239.5 L915.0,1238.3 L918.0,1237.1 L921.0,1235.9 L924.0,1234.7 L927.0,1233.5 L930.0,1232.3 L933.0,1231.1 L936.0,1229.9 L939.0,1228.7 L942.0,1227.4 L945.0,1226.2 L948.0,1224.9 L951.0,1223.6 L954.0,1222.4 L957.0,1221.1 L960.0,1219.8 L963.0,1218.5 L966.0,1217.2 L969.0,1215.8 L972.0,1214.5 L975.0,1213.1 L978.0,1211.8 L981.0,1210.4 L984.0,1209.0 L987.0,1207.6 L990.0,1206.1 L993.0,1204.7 L996.0,1203.2 L999.0,1201.7 L1002.0,1200.2 L1005.0,1198.7 L1008.0,1197.2 L1011.0,1195.7 L1014.0,1194.1 L1017.0,1192.5 L1020.0,1191.0 L1023.0,1189.4 L1026.0,1187.8 L1029.0,1186.2 L1032.0,1184.6 L1035.0,1183.0 L1038.0,1181.4 L1041.0,1179.8 L1044.0,1178.2 L1047.0,1176.6 L1050.0,1175.0 L1053.0,1173.5 L1056.0,1171.9 L1059.0,1170.4 L1062.0,1168.9 L1065.0,1167.4 L1068.0,1166.0 L1071.0,1164.6 L1074.0,1163.2 L1077.0,1161.9 L1080.0,1160.6 L1083.0,1159.4 L1086.0,1158.2 L1089.0,1157.1 L1092.0,1155.9 L1095.0,1154.8 L1098.0,1153.7 L1101.0,1152.7 L1104.0,1151.6 L1107.0,1150.4 L1110.0,1149.3 L1113.0,1148.1 L1116.0,1146.9 L1119.0,1145.7 L1122.0,1144.4 L1125.0,1143.0 L1128.0,1141.6 L1131.0,1140.1 L1134.0,1138.6 L1137.0,1137.1 L1140.0,1135.5 L1143.0,1134.0 L1146.0,1132.4 L1149.0,1130.9 L1152.0,1129.3 L1155.0,1127.8 L1158.0,1126.3 L1161.0,1124.8 L1164.0,1123.3 L1167.0,1121.9 L1170.0,1120.5 L1173.0,1119.1 L1176.0,1117.8 L1179.0,1116.4 L1182.0,1115.1 L1185.0,1113.8 L1188.0,1112.5 L1191.0,1111.2 L1194.0,1110.0 L1197.0,1108.7 L1200.0,1107.4 L1203.0,1106.1 L1206.0,1104.8 L1209.0,1103.5 L1212.0,1102.3 L1215.0,1101.0 L1218.0,1099.6 L1221.0,1098.3 L1224.0,1097.0 L1227.0,1095.7 L1230.0,1094.3 L1233.0,1093.0 L1236.0,1091.6 L1239.0,1090.2 L1242.0,1088.9 L1245.0,1087.5 L1248.0,1086.0 L1251.0,1084.6 L1254.0,1083.2 L1257.0,1081.7 L1260.0,1080.2 L1263.0,1078.8 L1266.0,1077.2 L1269.0,1075.7 L1272.0,1074.2 L1275.0,1072.6 L1278.0,1071.0 L1281.0,1069.4 L1284.0,1067.8 L1287.0,1066.1 L1290.0,1064.5 L1293.0,1062.8 L1296.0,1061.1 L1299.0,1059.3 L1302.0,1057.6 L1305.0,1055.8 L1308.0,1054.1 L1311.0,1052.3 L1314.0,1050.5 L1317.0,1048.7 L1320.0,1046.8 L1323.0,1045.0 L1326.0,1043.1 L1329.0,1041.3 L1332.0,1039.4 L1335.0,1037.5 L1338.0,1035.6 L1341.0,1033.7 L1344.0,1031.8 L1347.0,1029.8 L1350.0,1027.9 L1353.0,1026.0 L1356.0,1024.0 L1359.0,1022.1 L1362.0,1020.1 L1365.0,1018.2 L1368.0,1016.2 L1371.0,1014.2 L1374.0,1012.3 L1377.0,1010.3 L1380.0,1008.3 L1383.0,1006.3 L1386.0,1004.3 L1389.0,1002.3 L1392.0,1000.4 L1395.0,998.4 L1398.0,996.4 L1401.0,994.4 L1404.0,992.4 L1407.0,990.4 L1410.0,988.5 L1413.0,986.5 L1416.0,984.5 L1419.0,982.5 L1422.0,980.5 L1425.0,978.6 L1428.0,976.6 L1431.0,974.6 L1434.0,972.7 L1437.0,970.7 L1440.0,968.8 L1443.0,966.8 L1446.0,964.9 L1449.0,963.0 L1452.0,961.0 L1455.0,959.1 L1458.0,957.2 L1461.0,955.3 L1464.0,953.4 L1467.0,951.5 L1470.0,949.6 L1473.0,947.8 L1476.0,945.9 L1479.0,944.1 L1482.0,942.2 L1485.0,940.4 L1488.0,938.6 L1491.0,936.8 L1494.0,935.0 L1497.0,933.1 L1500.0,931.3 L1503.0,929.5 L1506.0,927.6 L1509.0,925.8 L1512.0,923.9 L1515.0,922.0 L1518.0,920.1 L1521.0,918.2 L1524.0,916.2 L1527.0,914.2 L1530.0,912.2 L1533.0,910.1 L1536.0,908.0 L1539.0,905.8 L1542.0,903.6 L1545.0,901.4 L1548.0,899.1 L1551.0,896.8 L1554.0,894.4 L1557.0,891.9 L1560.0,889.5 L1563.0,887.1 L1566.0,884.7 L1569.0,882.3 L1572.0,880.0 L1575.0,877.6 L1578.0,875.2 L1581.0,872.9 L1584.0,870.5 L1587.0,868.2 L1590.0,865.8 L1593.0,863.4 L1596.0,861.1 L1599.0,858.7 L1602.0,856.4 L1605.0,854.0 L1608.0,851.6 L1611.0,849.2 L1614.0,846.8 L1617.0,844.3 L1620.0,841.9 L1623.0,839.4 L1626.0,836.9 L1629.0,834.4 L1632.0,831.9 L1635.0,829.4 L1638.0,826.8 L1641.0,824.2 L1644.0,821.5 L1647.0,818.9 L1650.0,816.2 L1653.0,813.6 L1656.0,810.9 L1659.0,808.3 L1662.0,805.6 L1665.0,803.0 L1668.0,800.5 L1671.0,797.9 L1674.0,795.4 L1677.0,793.0 L1680.0,790.7 L1683.0,788.4 L1686.0,786.1 L1689.0,783.9 L1692.0,781.8 L1695.0,779.7 L1698.0,777.6 L1701.0,775.6 L1704.0,773.5 L1707.0,771.5 L1710.0,769.5 L1713.0,767.4 L1716.0,765.3 L1719.0,763.2 L1722.0,761.1 L1725.0,758.9 L1728.0,756.7 L1731.0,754.4 L1734.0,752.0 L1737.0,749.5 L1740.0,747.0 L1743.0,744.3 L1746.0,741.6 L1749.0,738.7 L1752.0,735.8 L1755.0,732.7 L1758.0,729.6 L1761.0,726.5 L1764.0,723.4 L1767.0,720.3 L1770.0,717.4 L1773.0,714.7 L1776.0,712.1 L1779.0,709.6 L1782.0,707.1 L1785.0,704.8 L1788.0,702.4 L1791.0,700.0 L1794.0,697.6 L1797.0,695.1 L1800.0,692.5 L1803.0,689.8 L1806.0,687.0 L1809.0,684.1 L1812.0,681.1 L1815.0,678.0 L1818.0,674.9 L1821.0,671.8 L1824.0,668.7 L1827.0,665.5 L1830.0,662.4 L1833.0,659.3 L1836.0,656.3 L1839.0,653.3 L1842.0,650.4 L1845.0,647.6 L1848.0,644.8 L1851.0,642.1 L1854.0,639.5 L1857.0,637.0 L1860.0,634.6 L1863.0,632.3 L1866.0,630.1 L1869.0,627.9 L1872.0,625.7 L1875.0,623.5 L1878.0,621.3 L1881.0,619.0 L1884.0,616.6 L1887.0,614.0 L1890.0,611.4 L1893.0,608.7 L1896.0,606.0 L1899.0,603.2 L1902.0,600.5 L1905.0,597.7 L1908.0,594.9 L1911.0,592.1 L1914.0,589.4 L1917.0,586.7 L1920.0,584.1 L1923.0,581.5 L1926.0,579.1 L1929.0,576.6 L1932.0,574.2 L1935.0,571.7 L1938.0,569.2 L1941.0,566.6 L1944.0,563.9 L1947.0,561.1 L1950.0,558.1 L1953.0,555.0 L1956.0,551.7 L1959.0,548.3 L1962.0,544.8 L1965.0,541.3 L1968.0,537.6 L1971.0,534.0 L1974.0,530.4 L1977.0,526.8 L1980.0,523.2 L1983.0,519.8 L1986.0,516.4 L1989.0,513.2 L1992.0,510.1 L1995.0,507.2 L1998.0,504.5 L2001.0,502.0 L2004.0,499.9 L2007.0,498.1 L2010.0,496.6 L2011.8,496.0" stroke="#d62728"/>
<path d="M288.6,1366.8 L294.0,1366.6 L297.0,1366.6 L300.0,1366.5 L303.0,1366.5 L306.0,1366.4 L309.0,1366.4 L312.0,1366.3 L315.0,1366.3 L318.0,1366.2 L321.0,1366.2 L324.0,1366.1 L327.0,1366.0 L330.0,1366.0 L333.0,1365.9 L336.0,1365.8 L339.0,1365.7 L342.0,1365.7 L345.0,1365.6 L348.0,1365.5 L351.0,1365.4 L354.0,1365.3 L357.0,1365.2 L360.0,1365.1 L363.0,1365.0 L366.0,1364.9 L369.0,1364.8 L372.0,1364.7 L375.0,1364.5 L378.0,1364.4 L381.0,1364.3 L384.0,1364.1 L387.0,1364.0 L390.0,1363.9 L393.0,1363.7 L396.0,1363.5 L399.0,1363.4 L402.0,1363.2 L405.0,1363.0 L408.0,1362.9 L411.0,1362.7 L414.0,1362.5 L417.0,1362.3 L420.0,1362.1 L423.0,1361.9 L426.0,1361.7 L429.0,1361.5 L432.0,1361.2 L435.0,1361.0 L438.0,1360.8 L441.0,1360.5 L444.0,1360.3 L447.0,1360.0 L450.0,1359.8 L453.0,1359.5 L456.0,1359.2 L459.0,1358.9 L462.0,1358.6 L465.0,1358.3 L468.0,1358.0 L471.0,1357.7 L474.0,1357.4 L477.0,1357.1 L480.0,1356.7 L483.0,1356.4 L486.0,1356.0 L489.0,1355.7 L492.0,1355.3 L495.0,1354.9 L498.0,1354.5 L501.0,1354.1 L504.0,1353.7 L507.0,1353.3 L510.0,1352.9 L513.0,1352.5 L516.0,1352.0 L519.0,1351.6 L522.0,1351.1 L525.0,1350.6 L528.0,1350.2 L531.0,1349.7 L534.0,1349.2 L537.0,1348.7 L540.0,1348.2 L543.0,1347.6 L546.0,1347.1 L549.0,1346.6 L552.0,1346.0 L555.0,1345.5 L558.0,1344.9 L561.0,1344.3 L564.0,1343.7 L567.0,1343.2 L570.0,1342.6 L573.0,1342.0 L576.0,1341.4 L579.0,1340.8 L582.0,1340.2 L585.0,1339.6 L588.0,1339.0 L591.0,1338.4 L594.0,1337.8 L597.0,1337.2 L600.0,1336.6 L603.0,1336.0 L606.0,1335.5 L609.0,1334.9 L612.0,1334.3 L615.0,1333.7 L618.0,1333.1 L621.0,1332.5 L624.0,1332.0 L627.0,1331.4 L630.0,1330.8 L633.0,1330.2 L636.0,1329.7 L639.0,1329.1 L642.0,1328.5 L645.0,1327.9 L648.0,1327.3 L651.0,1326.7 L654.0,1326.2 L657.0,1325.6 L660.0,1325.0 L663.0,1324.4 L666.0,1323.8 L669.0,1323.2 L672.0,1322.6 L675.0,1322.0 L678.0,1321.4 L681.0,1320.8 L684.0,1320.1 L687.0,1319.5 L690.0,1318.9 L693.0,1318.3 L696.0,1317.6 L699.0,1317.0 L702.0,1316.3 L705.0,1315.7 L708.0,1315.0 L711.0,1314.3 L714.0,1313.7 L717.0,1313.0 L720.0,1312.3 L723.0,1311.6 L726.0,1310.9 L729.0,1310.2 L732.0,1309.5 L735.0,1308.7 L738.0,1308.0 L741.0,1307.3 L744.0,1306.5 L747.0,1305.7 L750.0,1305.0 L753.0,1304.2 L756.0,1303.4 L759.0,1302.6 L762.0,1301.7 L765.0,1300.9 L768.0,1300.1 L771.0,1299.2 L774.0,1298.4 L777.0,1297.5 L780.0,1296.6 L783.0,1295.7 L786.0,1294.8 L789.0,1293.9 L792.0,1292.9 L795.0,1292.0 L798.0,1291.0 L801.0,1290.0 L804.0,1289.0 L807.0,1288.0 L810.0,1287.0 L813.0,1286.0 L816.0,1285.0 L819.0,1284.0 L822.0,1282.9 L825.0,1281.9 L828.0,1280.8 L831.0,1279.8 L834.0,1278.7 L837.0,1277.7 L840.0,1276.6 L843.0,1275.5 L846.0,1274.4 L849.0,1273.3 L852.0,1272.3 L855.0,1271.2 L858.0,1270.1 L861.0,1269.0 L864.0,1267.9 L867.0,1266.8 L870.0,1265.7 L873.0,1264.6 L876.0,1263.6 L879.0,1262.5 L882.0,1261.4 L885.0,1260.3 L888.0,1259.2 L891.0,1258.2 L894.0,1257.1 L897.0,1256.0 L900.0,1254.9 L903.0,1253.9 L906.0,1252.8 L909.0,1251.7 L912.0,1250.6 L915.0,1249.5 L918.0,1248.5 L921.0,1247.4 L924.0,1246.3 L927.0,1245.2 L930.0,1244.1 L933.0,1242.9 L936.0,1241.8 L939.0,1240.7 L942.0,1239.6 L945.0,1238.4 L948.0,1237.3 L951.0,1236.1 L954.0,1234.9 L957.0,1233.7 L960.0,1232.5 L963.0,1231.3 L966.0,1230.1 L969.0,1228.9 L972.0,1227.6 L975.0,1226.4 L978.0,1225.1 L981.0,1223.8 L984.0,1222.5 L987.0,1221.2 L990.0,1219.8 L993.0,1218.5 L996.0,1217.1 L999.0,1215.7 L1002.0,1214.3 L1005.0,1212.9 L1008.0,1211.4 L1011.0,1210.0 L1014.0,1208.5 L1017.0,1207.0 L1020.0,1205.5 L1023.0,1204.0 L1026.0,1202.6 L1029.0,1201.1 L1032.0,1199.6 L1035.0,1198.1 L1038.0,1196.6 L1041.0,1195.2 L1044.0,1193.7 L1047.0,1192.3 L1050.0,1190.9 L1053.0,1189.5 L1056.0,1188.2 L1059.0,1186.8 L1062.0,1185.5 L1065.0,1184.2 L1068.0,1183.0 L1071.0,1181.8 L1074.0,1180.6 L1077.0,1179.4 L1080.0,1178.3 L1083.0,1177.3 L1086.0,1176.3 L1089.0,1175.3 L1092.0,1174.3 L1095.0,1173.4 L1098.0,1172.4 L1101.0,1171.4 L1104.0,1170.5 L1107.0,1169.5 L1110.0,1168.5 L1113.0,1167.4 L1116.0,1166.3 L1119.0,1165.1 L1122.0,1163.9 L1125.0,1162.6 L1128.0,1161.3 L1131.0,1159.9 L1134.0,1158.5 L1137.0,1157.0 L1140.0,1155.6 L1143.0,1154.1 L1146.0,1152.6 L1149.0,1151.1 L1152.0,1149.6 L1155.0,1148.2 L1158.0,1146.7 L1161.0,1145.3 L1164.0,1144.0 L1167.0,1142.7 L1170.0,1141.3 L1173.0,1140.1 L1176.0,1138.8 L1179.0,1137.6 L1182.0,1136.4 L1185.0,1135.2 L1188.0,1134.0 L1191.0,1132.9 L1194.0,1131.7 L1197.0,1130.6 L1200.0,1129.4 L1203.0,1128.3 L1206.0,1127.2 L1209.0,1126.0 L1212.0,1124.9 L1215.0,1123.7 L1218.0,1122.6 L1221.0,1121.4 L1224.0,1120.2 L1227.0,1119.1 L1230.0,1117.9 L1233.0,1116.7 L1236.0,1115.5 L1239.0,1114.3 L1242.0,1113.0 L1245.0,1111.8 L1248.0,1110.5 L1251.0,1109.3 L1254.0,1108.0 L1257.0,1106.7 L1260.0,1105.3 L1263.0,1104.0 L1266.0,1102.6 L1269.0,1101.2 L1272.0,1099.8 L1275.0,1098.4 L1278.0,1096.9 L1281.0,1095.4 L1284.0,1093.9 L1287.0,1092.4 L1290.0,1090.8 L1293.0,1089.2 L1296.0,1087.6 L1299.0,1086.0 L1302.0,1084.3 L1305.0,1082.7 L1308.0,1081.0 L1311.0,1079.3 L1314.0,1077.6 L1317.0,1075.9 L1320.0,1074.1 L1323.0,1072.4 L1326.0,1070.7 L1329.0,1068.9 L1332.0,1067.1 L1335.0,1065.3 L1338.0,1063.6 L1341.0,1061.8 L1344.0,1060.0 L1347.0,1058.2 L1350.0,1056.4 L1353.0,1054.6 L1356.0,1052.8 L1359.0,1051.1 L1362.0,1049.3 L1365.0,1047.5 L1368.0,1045.7 L1371.0,1044.0 L1374.0,1042.2 L1377.0,1040.4 L1380.0,1038.7 L1383.0,1036.9 L1386.0,1035.2 L1389.0,1033.4 L1392.0,1031.7 L1395.0,1029.9 L1398.0,1028.2 L1401.0,1026.4 L1404.0,1024.7 L1407.0,1022.9 L1410.0,1021.2 L1413.0,1019.5 L1416.0,1017.7 L1419.0,1016.0 L1422.0,1014.3 L1425.0,1012.5 L1428.0,1010.8 L1431.0,1009.1 L1434.0,1007.4 L1437.0,1005.6 L1440.0,1003.9 L1443.0,1002.2 L1446.0,1000.4 L1449.0,998.7 L1452.0,997.0 L1455.0,995.2 L1458.0,993.5 L1461.0,991.8 L1464.0,990.0 L1467.0,988.3 L1470.0,986.6 L1473.0,984.8 L1476.0,983.1 L1479.0,981.3 L1482.0,979.6 L1485.0,977.8 L1488.0,976.1 L1491.0,974.3 L1494.0,972.6 L1497.0,970.8 L1500.0,969.0 L1503.0,967.3 L1506.0,965.5 L1509.0,963.7 L1512.0,961.9 L1515.0,960.1 L1518.0,958.3 L1521.0,956.5 L1524.0,954.6 L1527.0,952.8 L1530.0,950.9 L1533.0,949.1 L1536.0,947.2 L1539.0,945.3 L1542.0,943.4 L1545.0,941.5 L1548.0,939.6 L1551.0,937.6 L1554.0,935.7 L1557.0,933.7 L1560.0,931.7 L1563.0,929.7 L1566.0,927.7 L1569.0,925.6 L1572.0,923.6 L1575.0,921.5 L1578.0,919.4 L1581.0,917.3 L1584.0,915.1 L1587.0,913.0 L1590.0,910.8 L1593.0,908.6 L1596.0,906.4 L1599.0,904.1 L1602.0,901.8 L1605.0,899.5 L1608.0,897.2 L1611.0,894.9 L1614.0,892.5 L1617.0,890.2 L1620.0,887.8 L1623.0,885.4 L1626.0,883.0 L1629.0,880.7 L1632.0,878.3 L1635.0,875.9 L1638.0,873.5 L1641.0,871.1 L1644.0,868.8 L1647.0,866.4 L1650.0,864.1 L1653.0,861.7 L1656.0,859.4 L1659.0,857.2 L1662.0,854.9 L1665.0,852.7 L1668.0,850.5 L1671.0,848.3 L1674.0,846.2 L1677.0,844.1 L1680.0,842.0 L1683.0,840.0 L1686.0,838.0 L1689.0,836.1 L1692.0,834.1 L1695.0,832.2 L1698.0,830.3 L1701.0,828.4 L1704.0,826.5 L1707.0,824.6 L1710.0,822.6 L1713.0,820.7 L1716.0,818.7 L1719.0,816.7 L1722.0,814.7 L1725.0,812.6 L1728.0,810.4 L1731.0,808.2 L1734.0,805.9 L1737.0,803.6 L1740.0,801.2 L1743.0,798.7 L1746.0,796.1 L1749.0,793.4 L1752.0,790.6 L1755.0,787.7 L1758.0,784.8 L1761.0,781.9 L1764.0,779.1 L1767.0,776.4 L1770.0,773.9 L1773.0,771.6 L1776.0,769.4 L1779.0,767.3 L1782.0,765.4 L1785.0,763.5 L1788.0,761.5 L1791.0,759.6 L1794.0,757.5 L1797.0,755.3 L1800.0,753.0 L1803.0,750.4 L1806.0,747.7 L1809.0,744.7 L1812.0,741.7 L1815.0,738.6 L1818.0,735.4 L1821.0,732.2 L1824.0,729.0 L1827.0,725.8 L1830.0,722.7 L1833.0,719.7 L1836.0,716.8 L1839.0,714.1 L1842.0,711.6 L1845.0,709.3 L1848.0,707.1 L1851.0,705.1 L1854.0,703.2 L1857.0,701.4 L1860.0,699.6 L1863.0,697.9 L1866.0,696.1 L1869.0,694.4 L1872.0,692.6 L1875.0,690.7 L1878.0,688.7 L1881.0,686.6 L1884.0,684.4 L1887.0,682.0 L1890.0,679.6 L1893.0,677.0 L1896.0,674.4 L1899.0,671.7 L1902.0,669.0 L1905.0,666.2 L1908.0,663.5 L1911.0,660.8 L1914.0,658.1 L1917.0,655.4 L1920.0,652.9 L1923.0,650.4 L1926.0,648.0 L1929.0,645.7 L1932.0,643.3 L1935.0,641.0 L1938.0,638.7 L1941.0,636.2 L1944.0,633.8 L1947.0,631.2 L1950.0,628.4 L1953.0,625.5 L1956.0,622.5 L1959.0,619.2 L1962.0,615.7 L1965.0,612.0 L1968.0,608.1 L1971.0,604.2 L1974.0,600.3 L1977.0,596.5 L1980.0,592.8 L1983.0,589.3 L1986.0,586.0 L1989.0,583.0 L1992.0,580.3 L1995.0,577.8 L1998.0,575.6 L2001.0,573.8 L2004.0,572.2 L2007.0,570.8 L2010.0,569.7 L2011.8,569.1" stroke="#9467bd"/>
</g>
<g stroke="#000" stroke-width="3.8" filter="url(#fLine)">
<line x1="293.9" y1="1432.9" x2="293.9" y2="1453.3000000000002"/>
<line x1="538.2" y1="1432.9" x2="538.2" y2="1453.3000000000002"/>
<line x1="785.8" y1="1432.9" x2="785.8" y2="1453.3000000000002"/>
<line x1="1030.0" y1="1432.9" x2="1030.0" y2="1453.3000000000002"/>
<line x1="1278.0" y1="1432.9" x2="1278.0" y2="1453.3000000000002"/>
<line x1="1522.5" y1="1432.9" x2="1522.5" y2="1453.3000000000002"/>
<line x1="1770.4" y1="1432.9" x2="1770.4" y2="1453.3000000000002"/>
<line x1="2014.6" y1="1432.9" x2="2014.6" y2="1453.3000000000002"/>
<line x1="186.0" y1="1368.2" x2="206.4" y2="1368.2"/>
<line x1="186.0" y1="1135.5" x2="206.4" y2="1135.5"/>
<line x1="186.0" y1="899.2" x2="206.4" y2="899.2"/>
<line x1="186.0" y1="665.9" x2="206.4" y2="665.9"/>
<line x1="186.0" y1="429.2" x2="206.4" y2="429.2"/>
<line x1="186.0" y1="196.9" x2="206.4" y2="196.9"/>
<rect x="206.4" y="25.2" width="1892.1999999999998" height="1407.7" fill="none" stroke="#000" stroke-width="3.8" stroke-linejoin="miter"/>
</g>
<g id="legend" filter="url(#fLine)">
<rect x="233.3" y="52.0" width="625.2" height="411.9" rx="6.5" ry="6.5" fill="#fff" fill-opacity="0.8" stroke="#ccc" stroke-opacity="0.8" stroke-width="3.9"/>
<line x1="250.3" y1="91.9" x2="360.7" y2="91.9" stroke="#1f77b4" stroke-width="7.6"/>
<line x1="250.3" y1="172.1" x2="360.7" y2="172.1" stroke="#ff7f0e" stroke-width="7.6"/>
<line x1="250.3" y1="252.2" x2="360.7" y2="252.2" stroke="#2ca02c" stroke-width="7.6"/>
<line x1="250.3" y1="332.3" x2="360.7" y2="332.3" stroke="#d62728" stroke-width="7.6"/>
<line x1="250.3" y1="412.5" x2="360.7" y2="412.5" stroke="#9467bd" stroke-width="7.6"/>
</g>
<g id="labels" filter="url(#fText)">
<text x="397.6" y="111.0" font-size="52.9" letter-spacing="0.22">Greedy allocate</text>
<text x="397.6" y="190.6" font-size="52.9" letter-spacing="0.22">FiFs allocate</text>
<text x="397.6" y="270.5" font-size="52.9" letter-spacing="0.22">PSO allocate</text>
<text x="397.6" y="351.3" font-size="52.9" letter-spacing="0.22">LPSO allocate</text>
<text x="397.6" y="431.4" font-size="52.9" letter-spacing="0.22">LDLPSO allocate</text>
<text x="293.6" y="1511.3" font-size="52.9" text-anchor="middle">0</text>
<text x="535.4" y="1511.3" font-size="52.9" text-anchor="middle">100</text>
<text x="782.0" y="1511.3" font-size="52.9" text-anchor="middle">200</text>
<text x="1027.8" y="1511.3" font-size="52.9" text-anchor="middle">300</text>
<text x="1275.4" y="1511.3" font-size="52.9" text-anchor="middle">400</text>
<text x="1520.3" y="1511.3" font-size="52.9" text-anchor="middle">500</text>
<text x="1766.6" y="1511.3" font-size="52.9" text-anchor="middle">600</text>
<text x="2012.2" y="1511.3" font-size="52.9" text-anchor="middle">700</text>
<text x="166.0" y="1388.6" font-size="52.9" text-anchor="end">0.0</text>
<text x="166.0" y="1152.7" font-size="52.9" text-anchor="end">0.5</text>
<text x="166.0" y="919.9" font-size="52.9" text-anchor="end">1.0</text>
<text x="166.0" y="683.3" font-size="52.9" text-anchor="end">1.5</text>
<text x="166.0" y="450.8" font-size="52.9" text-anchor="end">2.0</text>
<text x="166.0" y="214.0" font-size="52.9" text-anchor="end">2.5</text>
<text x="1150.6" y="1583.8" font-size="52.9" text-anchor="middle" letter-spacing="0.25">Time Slots</text>
<g transform="translate(59.6,1065.0) rotate(-90)">
<text y="0"><tspan x="-2.0" y="0" font-size="52.5" style="font-family:'Liberation Sans', 'DejaVu Sans Condensed', sans-serif" textLength="151.0" lengthAdjust="spacingAndGlyphs">Energy</tspan> <tspan x="158.0" y="0" font-size="52.5" style="font-family:'Liberation Sans', 'DejaVu Sans Condensed', sans-serif" textLength="295.0" lengthAdjust="spacingAndGlyphs">Consumption</tspan><tspan x="451.0" y="0" font-size="52.5" style="font-family:'Liberation Sans', 'DejaVu Sans Condensed', sans-serif" textLength="37.0" lengthAdjust="spacingAndGlyphs">(1</tspan> <tspan x="492.5" y="0.0" font-size="58.0" style="font-family:'DejaVu Sans', 'Liberation Sans', sans-serif" textLength="49.0" lengthAdjust="spacingAndGlyphs">×</tspan> <tspan x="542.0" y="0" font-size="52.5" style="font-family:'Liberation Sans', 'DejaVu Sans Condensed', sans-serif" textLength="55.0" lengthAdjust="spacingAndGlyphs">10</tspan><tspan x="593.5" y="-16.0" font-size="33.0" style="font-family:'Liberation Sans', 'DejaVu Sans Condensed', sans-serif" textLength="18.0" lengthAdjust="spacingAndGlyphs">7</tspan><tspan x="612.0" y="0" font-size="52.5" style="font-family:'Liberation Sans', 'DejaVu Sans Condensed', sans-serif" textLength="77.0" lengthAdjust="spacingAndGlyphs">mJ)</tspan></text>
</g>
</g>
</g>
</svg>
</body></html>
